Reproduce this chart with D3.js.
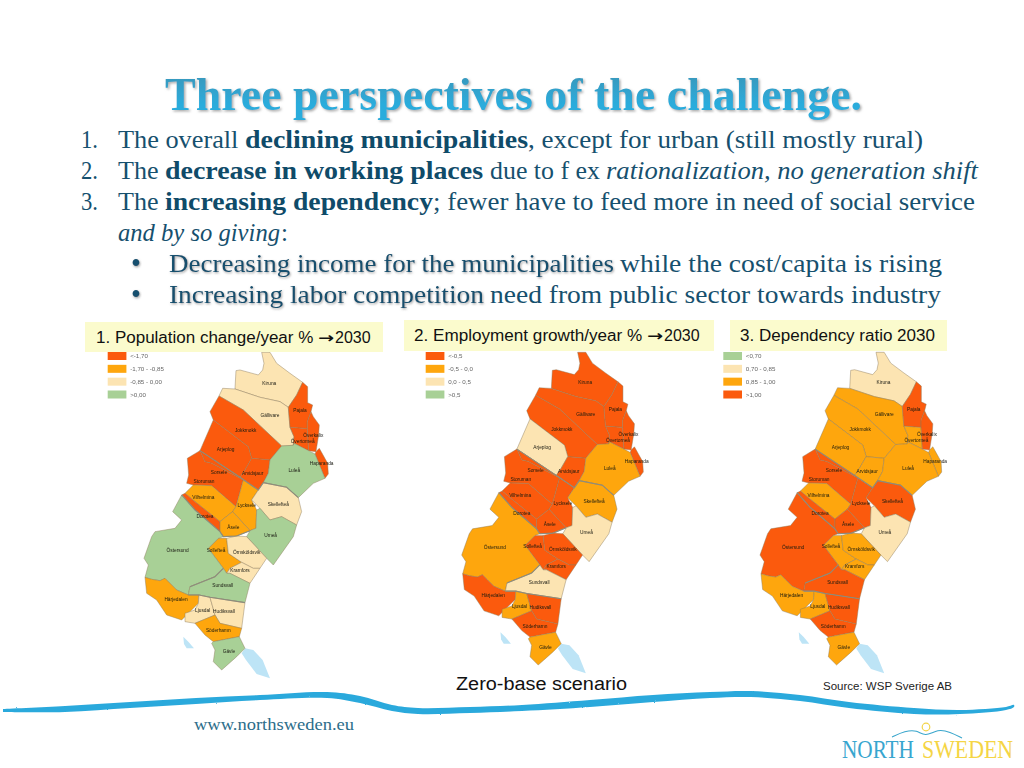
<!DOCTYPE html>
<html>
<head>
<meta charset="utf-8">
<style>
html, body { margin: 0; padding: 0; background: #fff; }
svg { display: block; }
text { white-space: pre; }
.serif { font-family: "Liberation Serif", serif; }
.sans { font-family: "Liberation Sans", Arial, sans-serif; }
</style>
</head>
<body>
<svg id="slide" width="1024" height="768"></svg>
<script src="https://d3js.org/d3.v7.min.js"></script>
<script>
// ---- data ----
var municipalities = ["Kiruna","Gällivare","Pajala","Överkalix","Övertorneå","Haparanda","Jokkmokk","Arjeplog","Arvidsjaur","Luleå",
  "Sorsele","Storuman","Vilhelmina","Dorotea","Lycksele","Åsele","Skellefteå","Umeå","Sollefteå","Örnsköldsvik",
  "Kramfors","Östersund","Sundsvall","Härjedalen","Ljusdal","Hudiksvall","Söderhamn","Gävle"];

// class of each municipality, same order as above: r, o, c, g
var populationClass = ["c","c","r","r","r","r","r","r","r","g","r","r","o","r","o","o","c","g","o","c","c","g","g","o","c","c","o","g"];
var employmentClass = ["r","r","r","r","r","r","r","c","r","o","r","r","r","r","r","r","o","c","r","r","r","o","c","r","o","r","r","o"];
var dependencyClass = ["c","o","r","o","r","o","o","o","o","o","r","r","o","r","r","r","r","c","o","o","o","r","r","o","o","r","r","o"];

var populationLegend = ["<-1,70","-1,70 - -0,85","-0,85 - 0,00",">0,00"];
var employmentLegend = ["<-0,5","-0,5 - 0,0","0,0 - 0,5",">0,5"];
var dependencyLegend = ["<0,70","0,70 - 0,85","0,85 - 1,00",">1,00"];

var classCodes = ["r","o","c","g"];
var classColors = ["#fb5a0c","#fea60c","#fce4b2","#a8d096"];

// municipality outlines, in picture units of the first map
var outlines = [
  [[545,97],[570,97],[590,130],[630,160],[668,187],[650,225],[625,262],[600,245],[540,232],[465,207],[468,152],[480,150],[535,165],[548,150],[552,130]],
  [[465,207],[540,232],[600,245],[625,262],[630,322],[642,350],[640,376],[605,378],[490,270],[417,228],[428,205]],
  [[668,187],[683,200],[683,248],[698,255],[693,275],[682,305],[682,326],[630,322],[625,262],[650,225]],
  [[630,322],[682,326],[686,392],[642,370],[640,376],[642,350]],
  [[682,305],[693,275],[700,290],[718,315],[716,345],[708,395],[686,392],[682,326]],
  [[708,395],[718,385],[743,430],[745,462],[735,475],[705,402]],
  [[417,228],[490,270],[605,378],[570,420],[515,415],[505,380],[400,300],[390,275]],
  [[400,300],[505,380],[515,415],[495,450],[480,472],[360,392]],
  [[515,415],[570,420],[565,460],[550,488],[535,510],[480,472],[495,450]],
  [[605,378],[640,376],[642,370],[686,392],[705,402],[735,475],[700,490],[655,533],[620,502],[550,488],[565,460],[570,420]],
  [[360,392],[480,472],[490,480],[395,430],[375,425]],
  [[360,392],[375,425],[395,430],[490,480],[468,560],[395,497],[340,495],[320,490],[326,465],[322,415]],
  [[340,495],[395,497],[468,560],[458,575],[420,605],[345,545],[315,520]],
  [[305,525],[315,520],[345,545],[420,605],[420,635],[345,570]],
  [[490,480],[535,510],[515,540],[530,570],[528,625],[510,632],[458,575],[468,560]],
  [[420,605],[458,575],[510,632],[470,648],[430,650],[420,635]],
  [[535,510],[550,488],[620,502],[655,533],[665,575],[650,615],[605,590],[570,600],[540,565],[515,540]],
  [[540,565],[570,600],[605,590],[650,615],[640,650],[580,735],[560,715],[500,650],[510,632],[528,625],[530,570]],
  [[415,655],[440,655],[445,700],[485,727],[450,745],[440,760],[430,745],[385,685]],
  [[440,655],[470,648],[500,650],[560,715],[540,745],[520,745],[485,727],[445,700]],
  [[485,727],[520,745],[540,745],[510,790],[450,760],[440,760],[450,745]],
  [[305,525],[345,570],[420,635],[430,650],[415,655],[385,685],[430,745],[405,770],[330,800],[325,825],[290,810],[270,790],[255,775],[240,782],[215,778],[195,772],[205,735],[192,715],[215,650],[225,635],[285,625],[305,600],[278,575]],
  [[330,800],[405,770],[430,745],[440,760],[450,760],[510,790],[495,848],[390,832],[357,825],[325,825]],
  [[195,772],[215,778],[240,782],[255,775],[270,790],[290,810],[325,825],[357,825],[355,850],[305,900],[260,885],[230,840],[200,820]],
  [[357,825],[390,832],[405,885],[345,910],[315,905],[315,880],[345,870],[355,850]],
  [[390,832],[495,848],[485,925],[420,910],[405,885]],
  [[345,910],[405,885],[420,910],[485,925],[478,950],[400,965],[375,945]],
  [[400,965],[478,950],[495,985],[470,1010],[425,1050],[400,1025],[405,990],[395,970]]
];
var labelSpots = [[568,190],[570,285],[660,272],[700,347],[668,365],[725,430],[497,332],[437,388],[518,460],[643,452],
  [417,458],[372,483],[370,533],[375,588],[500,557],[460,622],[595,552],[572,647],[408,690],[500,698],
  [480,750],[293,692],[428,797],[288,838],[368,872],[432,873],[415,932],[447,995]];

var countyBorders = [
  [[360,392],[480,472],[535,510],[550,488],[620,502],[655,533]],
  [[305,525],[345,570],[420,635],[430,650],[470,648],[510,632]],
  [[330,800],[405,770],[430,745]],
  [[325,825],[357,825],[390,832],[495,848]]
];
var waters = [
  [[495,985],[520,990],[548,1020],[570,1075],[530,1062],[498,1020],[485,1000]],
  [[310,950],[325,965],[342,985],[320,985],[312,972]]
];

var mapTitles = ["1. Population change/year % ","2. Employment growth/year % ","3. Dependency ratio 2030"];
var titleTails = ["2030","2030",""];

var heading = "Three perspectives of the challenge.";
var bodyRuns = [
  ["1.","n"],["The overall ","n"],["declining municipalities","b"],[", except for urban (still mostly rural)","n"],
  ["2.","n"],["The ","n"],["decrease in working places","b"],["due to f ex","n"],["rationalization, no generation shift","i"],
  ["3.","n"],["The ","n"],["increasing dependency","b"],["; fewer have to feed more in need of social service","n"],
  ["and by so giving","i"],[":","n"],
  ["\u2022","d"],["Decreasing income for the municipalities","s"],["while the cost/capita is rising","n"],
  ["\u2022","d"],["Increasing labor competition","s"],["need from public sector towards industry","n"]
];
// left edge, width and baseline of each run above
var bodyLayout = [
  [81,17,147.5],[118,127,147.5],[245,283,147.5],[528,395,147.5],
  [81,17,178.5],[118,47,178.5],[165,318,178.5],[490,110,178.5],[606,372,178.5],
  [81,17,209.5],[118,47,209.5],[165,268,209.5],[433,542,209.5],
  [118,162,240.5],[281,7,240.5],
  [131,10,273],[169,445,271.5],[620,322,271.5],
  [131,10,304],[169,315,302.5],[490,451,302.5]
];

// swoosh under the maps, top and bottom edge
var swooshTop = [[3,709],[65,706],[130,702],[196,698],[260,695],[327,692],[360,696],[392,705],[418,708],[470,707],[522,705],[590,700],[653,695],[710,692],[751,691],[800,695],[849,702],[914,708],[960,710],[1006,707],[1014,705]];
var swooshBottom = [[1014,707],[1006,710],[960,714],[914,714],[849,708],[800,701],[751,697],[710,698],[653,702],[590,707],[522,711],[470,713],[418,714],[392,711],[360,703],[327,698],[260,700],[196,704],[130,708],[65,712],[3,712]];
var logoWave = [[892,737],[905,731],[917,730],[925,737],[938,729],[950,732],[962,738]];

// ---- setup ----
var svg = d3.select("#slide");
var defs = svg.append("defs");

var grad = defs.append("linearGradient").attr("id","titleGrad").attr("x1",0).attr("x2",0).attr("y1",0).attr("y2",1);
grad.append("stop").attr("offset","0%").attr("stop-color","#3c93b4");
grad.append("stop").attr("offset","70%").attr("stop-color","#2bacdc");

defs.append("filter").attr("id","mapBlur").append("feGaussianBlur").attr("stdDeviation",0.55);
defs.append("filter").attr("id","titleShadow").attr("x","-5%").attr("y","-20%").attr("width","110%").attr("height","150%")
  .append("feDropShadow").attr("dx",1.5).attr("dy",1.5).attr("stdDeviation",1).attr("flood-color","#888").attr("flood-opacity",0.7);
defs.append("filter").attr("id","lineShadow").attr("x","-5%").attr("y","-20%").attr("width","110%").attr("height","150%")
  .append("feDropShadow").attr("dx",0.8).attr("dy",1.2).attr("stdDeviation",0.8).attr("flood-color","#777").attr("flood-opacity",0.7);

var rough = defs.append("filter").attr("id","rough").attr("x","0%").attr("y","-50%").attr("width","100%").attr("height","200%");
rough.append("feTurbulence").attr("type","fractalNoise").attr("baseFrequency",0.45).attr("numOctaves",2).attr("seed",4);
rough.append("feDisplacementMap").attr("in","SourceGraphic").attr("scale",1.6);

var color = d3.scaleOrdinal().domain(classCodes).range(classColors);
var legendOrder = d3.scalePoint().domain(d3.range(4)).range([0,38.5]);

var mapsSetup = [
  {cls:populationClass, legend:populationLegend, codes:["r","o","c","g"], x:[144,328.3], y:[352.3,670], swatch:107.7, box:[85,322,298,30], titleX:96, titleY:343, titleW:222},
  {cls:employmentClass, legend:employmentLegend, codes:["r","o","c","g"], x:[461.7,643.3], y:[352.3,665], swatch:425.7, box:[404,320,310,31], titleX:414, titleY:341, titleW:233},
  {cls:dependencyClass, legend:dependencyLegend, codes:["g","c","o","r"], x:[760,941.7], y:[352.3,665], swatch:723.3, box:[730,320,217,31], titleX:740, titleY:341, titleW:195}
];

function ringOf(pts) { return pts.concat([pts[0]]); }

// ---- maps ----
mapsSetup.forEach(function(m) {
  var xs = d3.scaleLinear().domain([192,745]).range(m.x);
  var ys = d3.scaleLinear().domain([97,1050]).range(m.y);
  var path = d3.geoPath(d3.geoTransform({
    point: function(x, y) { this.stream.point(xs(x), ys(y)); }
  }));

  var g = svg.append("g").attr("filter","url(#mapBlur)");

  g.selectAll("path.water").data(waters).enter().append("path").attr("class","water")
    .attr("d", function(d) { return path({type:"Polygon", coordinates:[ringOf(d)]}); })
    .attr("fill","#bde4f6");

  g.selectAll("path.muni").data(outlines).enter().append("path").attr("class","muni")
    .attr("d", function(d) { return path({type:"Polygon", coordinates:[ringOf(d)]}); })
    .attr("fill", function(d,i) { return color(m.cls[i]); })
    .attr("stroke","#8e7c5c").attr("stroke-width",0.6).attr("stroke-opacity",0.75).attr("stroke-linejoin","round");

  g.selectAll("path.county").data(countyBorders).enter().append("path").attr("class","county")
    .attr("d", function(d) { return path({type:"LineString", coordinates:d}); })
    .attr("fill","none").attr("stroke","#8e8c7c").attr("stroke-width",1.1);

  g.selectAll("text.muni").data(municipalities).enter().append("text").attr("class","muni sans")
    .attr("x", function(d,i) { return xs(labelSpots[i][0]); })
    .attr("y", function(d,i) { return ys(labelSpots[i][1]) + 1.6; })
    .attr("text-anchor","middle").attr("font-size",4.8).attr("fill","#1c1c14")
    .text(function(d) { return d; });

  // legend
  var lg = svg.append("g").attr("filter","url(#mapBlur)");
  var rows = lg.selectAll("g").data(m.legend).enter().append("g")
    .attr("transform", function(d,i) { return "translate(" + m.swatch + "," + (352 + legendOrder(i)) + ")"; });
  rows.append("rect").attr("width",18.7).attr("height",8)
    .attr("fill", function(d,i) { return color(m.codes[i]); });
  rows.append("text").attr("class","sans").attr("x",22.5).attr("y",6.2).attr("font-size",6.2).attr("fill","#666")
    .text(function(d) { return d; });
});

// ---- title boxes sit above the maps ----
mapsSetup.forEach(function(m, i) {
  svg.append("rect").attr("x",m.box[0]).attr("y",m.box[1]).attr("width",m.box[2]).attr("height",m.box[3]).attr("fill","#fbfbcd");
  var t = svg.append("text").attr("class","sans").attr("x",m.titleX).attr("y",m.titleY)
    .attr("font-size",16).attr("fill","#111")
    .attr("textLength",m.titleW).attr("lengthAdjust","spacingAndGlyphs")
    .text(mapTitles[i]);
  if (titleTails[i]) {
    // wingdings style arrow, then the year
    var end = m.titleX + m.titleW;
    svg.append("text").attr("x",end).attr("y",m.titleY).attr("font-family","DejaVu Sans").attr("font-weight","bold")
      .attr("font-size",14.5).attr("fill","#111").attr("textLength",16).attr("lengthAdjust","spacingAndGlyphs").text("\u2192");
    svg.append("text").attr("class","sans").attr("x",end + 17).attr("y",m.titleY).attr("font-size",16).attr("fill","#111").text(titleTails[i]);
  }
});

// ---- heading and body ----
svg.append("text").attr("class","serif").attr("x",165).attr("y",110)
  .attr("font-size",47).attr("font-weight","bold").attr("fill","url(#titleGrad)")
  .attr("filter","url(#titleShadow)")
  .attr("textLength",697).attr("lengthAdjust","spacingAndGlyphs")
  .text(heading);

bodyRuns.forEach(function(r, i) {
  var l = bodyLayout[i];
  var t = svg.append("text").attr("class","serif").attr("x",l[0]).attr("y",l[2])
    .attr("font-size", r[1] == "d" ? 30 : 25).attr("fill", r[1] == "b" ? "#0f4b69" : "#16506e")
    .attr("textLength",l[1]).attr("lengthAdjust","spacingAndGlyphs")
    .text(r[0]);
  if (r[1] == "b") t.attr("font-weight","bold");
  if (r[1] == "i") t.attr("font-style","italic");
  if (r[1] == "s" || r[1] == "d") t.attr("filter","url(#lineShadow)");
});

// ---- footer ----
var swooshLine = d3.line().curve(d3.curveCatmullRom);
svg.append("path").attr("d", swooshLine(swooshTop.concat(swooshBottom)) + "Z").attr("fill","#2ba9dc").attr("filter","url(#rough)");

svg.append("text").attr("class","sans").attr("x",456).attr("y",690).attr("font-size",18).attr("fill","#111")
  .attr("textLength",171).attr("lengthAdjust","spacingAndGlyphs").text("Zero-base scenario");
svg.append("text").attr("class","sans").attr("x",823).attr("y",690).attr("font-size",11).attr("fill","#222")
  .attr("textLength",129).attr("lengthAdjust","spacingAndGlyphs").text("Source: WSP Sverige AB");
svg.append("text").attr("class","serif").attr("x",194).attr("y",730).attr("font-size",16).attr("fill","#2c6d8a")
  .attr("textLength",160).attr("lengthAdjust","spacingAndGlyphs").text("www.northsweden.eu");

// logo
svg.append("path").attr("d", d3.line().curve(d3.curveBasis)(logoWave)).attr("fill","none").attr("stroke","#3aa6cc").attr("stroke-width",1.1);
svg.append("circle").attr("cx",926).attr("cy",727).attr("r",3.8).attr("fill","none").attr("stroke","#f3d44a").attr("stroke-width",1.2);
svg.append("text").attr("class","serif").attr("transform","translate(842,758) scale(0.85,1)").attr("font-size",25).attr("fill","#38a6cf").text("NORTH");
svg.append("text").attr("class","serif").attr("transform","translate(922,758) scale(0.875,1)").attr("font-size",25).attr("fill","#f5d545").text("SWEDEN");
</script>
</body>
</html>
